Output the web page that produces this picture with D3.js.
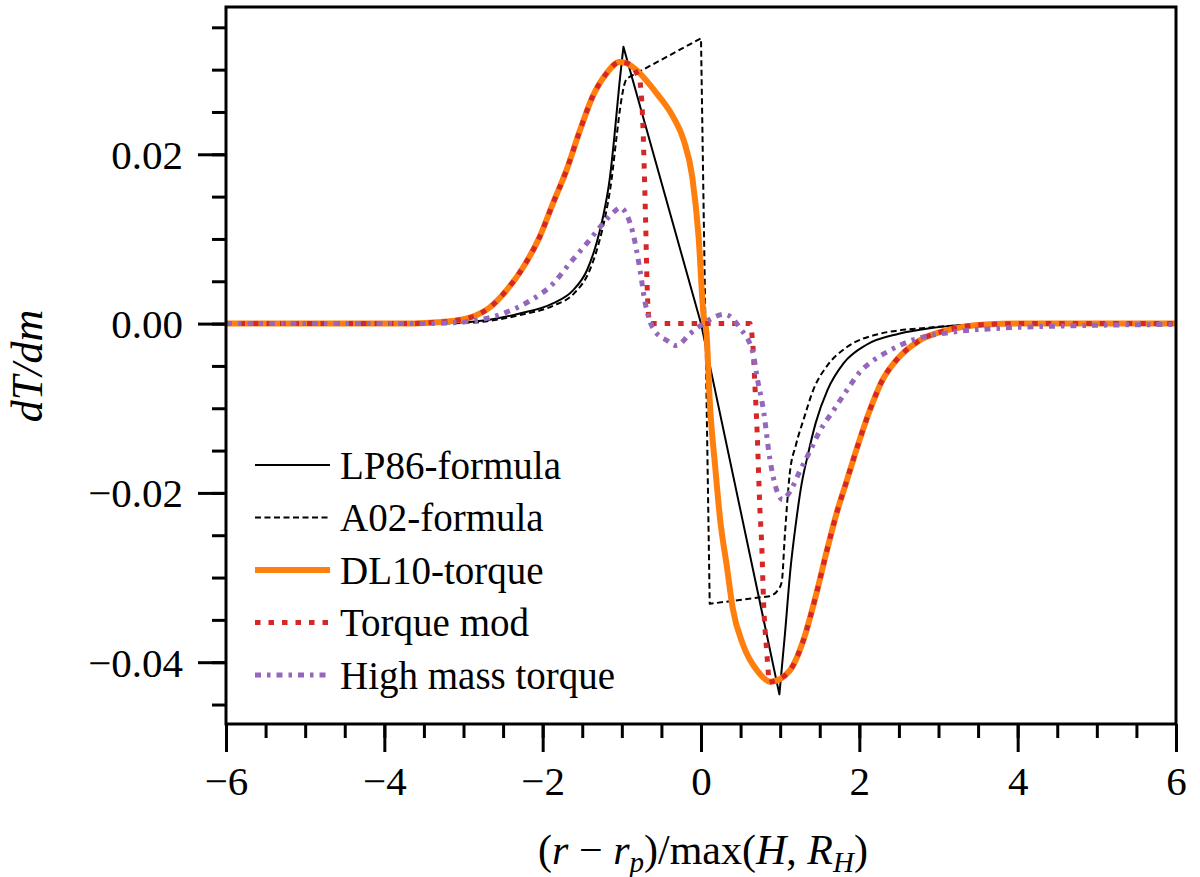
<!DOCTYPE html>
<html><head><meta charset="utf-8">
<script src="https://cdn.jsdelivr.net/npm/d3@7"></script>
<style>
html,body{margin:0;padding:0;background:#fff;}
svg{display:block;}
text{font-family:"Liberation Serif","DejaVu Serif",serif;fill:#000;}
</style></head>
<body><svg id="chart" width="1200" height="877"></svg>
<script>
// ---- data ----
const xDomain = [-6, 6];
const yDomain = [-0.0473, 0.0374];
const xTicks = [-6, -4, -2, 0, 2, 4, 6];
const xMinorTicks = [-6,-5.5,-5,-4.5,-4,-3.5,-3,-2.5,-2,-1.5,-1,-0.5,0,0.5,1,1.5,2,2.5,3,3.5,4,4.5,5,5.5,6];
const yTicks = [-0.04, -0.02, 0.0, 0.02];
const yMinorTicks = [-0.045,-0.04,-0.035,-0.03,-0.025,-0.02,-0.015,-0.01,-0.005,0,0.005,0.01,0.015,0.02,0.025,0.03,0.035];

// LP86-formula
const lp86 = [[-6,0],[-3.5,0],[-2.92,0.0002],[-2.29,0.0012],[-1.87,0.0024],[-1.62,0.0039],[-1.44,0.0063],[-1.32,0.0095],[-1.24,0.0125],[-1.15,0.0173],[-1.09,0.0225],[-1.03,0.0284],[-0.98,0.0327],[0,0],[0.99,-0.0438],[1.06,-0.0367],[1.13,-0.029],[1.2,-0.0235],[1.27,-0.019],[1.35,-0.0155],[1.45,-0.0117],[1.6,-0.0078],[1.8,-0.0047],[2.09,-0.0025],[2.5,-0.0012],[2.93,-0.0005],[3.4,-0.0001],[4,0],[6,0]];
const lp86Corners = [-0.98, 0, 0.99];

// A02-formula
const a02 = [[-6,0],[-3.5,0],[-2.92,0.0001],[-2.29,0.001],[-1.87,0.0021],[-1.6,0.0036],[-1.42,0.006],[-1.3,0.0092],[-1.22,0.0122],[-1.13,0.017],[-1.07,0.0218],[-1.01,0.0262],[-0.96,0.0285],[-0.93,0.029],[0.0,0.0337],[0.11,-0.0331],[0.87,-0.0322],[0.97,-0.0315],[1.02,-0.0305],[1.06,-0.0249],[1.12,-0.0178],[1.2,-0.0143],[1.3,-0.0112],[1.42,-0.0078],[1.6,-0.0049],[1.84,-0.0028],[2.26,-0.0012],[2.85,-0.0005],[3.5,-0.0001],[4,0],[6,0]];
const a02Corners = [-0.93, 0.0, 0.11, 0.87];

// DL10-torque
const dl10 = [[-6,0],[-3.8,0],[-3.42,0.0001],[-3.15,0.0003],[-2.92,0.0007],[-2.67,0.0019],[-2.46,0.0039],[-2.25,0.0066],[-2.04,0.0102],[-1.87,0.0142],[-1.7,0.0181],[-1.53,0.0228],[-1.37,0.0268],[-1.19,0.0296],[-1.03,0.0309],[-0.95,0.0308],[-0.86,0.0303],[-0.56,0.0272],[-0.35,0.0244],[-0.22,0.0217],[-0.11,0.0173],[-0.03,0.0102],[0.03,0.0012],[0.07,-0.0012],[0.11,-0.0091],[0.18,-0.017],[0.24,-0.023],[0.33,-0.0289],[0.4,-0.0336],[0.53,-0.0379],[0.71,-0.041],[0.88,-0.0423],[1.12,-0.041],[1.29,-0.0375],[1.46,-0.0318],[1.58,-0.0272],[1.71,-0.0225],[1.84,-0.0186],[1.96,-0.015],[2.13,-0.0103],[2.29,-0.0067],[2.46,-0.0044],[2.76,-0.002],[3.1,-0.0008],[3.6,-0.0001],[4,0],[6,0]];
const dl10Corners = [];

// Torque mod
const torqueMod = [[-6,0],[-3.8,0],[-3.42,0.0001],[-3.15,0.0003],[-2.92,0.0007],[-2.67,0.0019],[-2.46,0.0039],[-2.25,0.0066],[-2.04,0.0102],[-1.87,0.0142],[-1.7,0.0181],[-1.53,0.0228],[-1.37,0.0268],[-1.19,0.0296],[-1.03,0.0309],[-0.95,0.0308],[-0.86,0.0303],[-0.77,0.0287],[-0.74,0.0248],[-0.7,0.0122],[-0.68,0.0043],[-0.65,0],[0.62,0],[0.66,-0.0032],[0.68,-0.0071],[0.71,-0.013],[0.74,-0.021],[0.77,-0.0269],[0.79,-0.0328],[0.83,-0.0387],[0.86,-0.0424],[0.9,-0.0423],[1.12,-0.041],[1.29,-0.0375],[1.46,-0.0318],[1.58,-0.0272],[1.71,-0.0225],[1.84,-0.0186],[1.96,-0.015],[2.13,-0.0103],[2.29,-0.0067],[2.46,-0.0044],[2.76,-0.002],[3.1,-0.0008],[3.6,-0.0001],[4,0],[6,0]];
const torqueModCorners = [-0.77, -0.65, 0.62, 0.86];

// High mass torque
const highMass = [[-6,0],[-3.6,0],[-3.13,0.0001],[-2.5,0.0012],[-2.16,0.0027],[-1.87,0.0047],[-1.66,0.0071],[-1.44,0.0095],[-1.24,0.0118],[-1.1,0.0132],[-1.02,0.0137],[-0.93,0.0127],[-0.86,0.0107],[-0.77,0.0063],[-0.71,0.0027],[-0.61,-0.0005],[-0.43,-0.002],[-0.31,-0.0026],[-0.14,-0.0012],[0.03,0],[0.3,0.0011],[0.49,-0.0005],[0.66,-0.0036],[0.71,-0.0064],[0.79,-0.0103],[0.87,-0.016],[0.95,-0.0195],[1.03,-0.0208],[1.12,-0.0199],[1.25,-0.0174],[1.38,-0.015],[1.5,-0.0127],[1.67,-0.0103],[1.84,-0.0079],[2.0,-0.0058],[2.2,-0.0042],[2.34,-0.0034],[2.72,-0.0018],[3.1,-0.0011],[3.68,-0.0006],[4.5,-0.0003],[6,-0.0001]];
const highMassCorners = [];

const seriesNames = ["LP86-formula","A02-formula","DL10-torque","Torque mod","High mass torque"];

// ---- layout ----
const svg = d3.select("#chart");
const m = {left:226, right:1176, top:7, bottom:724};
const x = d3.scaleLinear().domain(xDomain).range([m.left, m.right]);
const y = d3.scaleLinear().domain(yDomain).range([m.bottom, m.top]);

const styles = [
  {data:lp86, corners:lp86Corners, color:"#000", width:2, dash:null},
  {data:a02, corners:a02Corners, color:"#000", width:2, dash:"6,3.5"},
  {data:dl10, corners:dl10Corners, color:"#ff7f0e", width:6, dash:null},
  {data:torqueMod, corners:torqueModCorners, color:"#d62728", width:5, dash:"5.5,8"},
  {data:highMass, corners:highMassCorners, color:"#9467bd", width:5, dash:"6,6,3.5,6"}
];

// build path: smooth (monotone) between sharp corners, joined into one path
function buildPath(data, corners){
  const segs = [];
  let cur = [];
  data.forEach((p,i)=>{
    cur.push(p);
    if (corners.includes(p[0]) && i>0 && i<data.length-1){
      segs.push(cur); cur=[p];
    }
  });
  if (cur.length>1) segs.push(cur);
  let d = "";
  segs.forEach((s,k)=>{
    const gen = d3.line().x(p=>x(p[0])).y(p=>y(p[1]))
      .curve(s.length>2 ? d3.curveMonotoneX : d3.curveLinear);
    let sd = gen(s);
    if (k>0) sd = "L" + sd.slice(1);
    d += sd;
  });
  return d;
}

svg.append("defs").append("clipPath").attr("id","clip").append("rect")
  .attr("x",m.left).attr("y",m.top).attr("width",m.right-m.left).attr("height",m.bottom-m.top);

const plot = svg.append("g").attr("clip-path","url(#clip)");
styles.forEach(s=>{
  plot.append("path")
    .attr("fill","none").attr("stroke",s.color).attr("stroke-width",s.width)
    .attr("stroke-dasharray",s.dash).attr("stroke-linejoin","round")
    .attr("d", buildPath(s.data, s.corners));
});

// axes
const fmtX = d3.format("d");
const fmtY = d3.format(".2f");
const gx = svg.append("g").attr("transform",`translate(0,${m.bottom})`)
  .call(d3.axisBottom(x).tickValues(xMinorTicks).tickSize(14).tickFormat(""));
const gx2 = svg.append("g").attr("transform",`translate(0,${m.bottom})`)
  .call(d3.axisBottom(x).tickValues(xTicks).tickSize(28).tickPadding(14).tickFormat(fmtX));
const gy = svg.append("g").attr("transform",`translate(${m.left},0)`)
  .call(d3.axisLeft(y).tickValues(yMinorTicks).tickSize(14).tickFormat(""));
const gy2 = svg.append("g").attr("transform",`translate(${m.left},0)`)
  .call(d3.axisLeft(y).tickValues(yTicks).tickSize(28).tickPadding(15).tickFormat(fmtY));
[gx,gx2,gy,gy2].forEach(g=>{
  g.select(".domain").remove();
  g.selectAll(".tick line").attr("stroke","#000").attr("stroke-width",3);
  g.selectAll(".tick text").attr("font-size",41).attr("font-family","Liberation Serif, serif").attr("fill","#000");
});
gy2.selectAll(".tick text").attr("dy","0.34em");

// frame
svg.append("rect").attr("x",m.left).attr("y",m.top).attr("width",m.right-m.left).attr("height",m.bottom-m.top)
  .attr("fill","none").attr("stroke","#000").attr("stroke-width",3);

// x label
const xl = svg.append("text").attr("x",(m.left+m.right)/2+2).attr("y",864).attr("text-anchor","middle").attr("font-size",42);
xl.append("tspan").text("(");
xl.append("tspan").attr("font-style","italic").text("r");
xl.append("tspan").text(" − ");
xl.append("tspan").attr("font-style","italic").text("r");
xl.append("tspan").attr("font-style","italic").attr("font-size",29).attr("dy",8).text("p");
xl.append("tspan").attr("dy",-8).text(")/max(");
xl.append("tspan").attr("font-style","italic").text("H");
xl.append("tspan").text(", ");
xl.append("tspan").attr("font-style","italic").text("R");
xl.append("tspan").attr("font-style","italic").attr("font-size",29).attr("dy",8).text("H");
xl.append("tspan").attr("dy",-8).text(")");

// y label
svg.append("text").attr("transform","translate(42,366) rotate(-90)").attr("text-anchor","middle")
  .attr("font-size",44).attr("font-style","italic").text("dT/dm");

// legend
const legX0 = 255, legX1 = 330, legTx = 340, legY0 = 465, legDy = 52.5;
seriesNames.forEach((name,i)=>{
  const s = styles[i];
  const yy = legY0 + i*legDy;
  svg.append("line").attr("x1",legX0).attr("x2",legX1).attr("y1",yy).attr("y2",yy)
    .attr("stroke",s.color).attr("stroke-width",s.width).attr("stroke-dasharray",s.dash);
  svg.append("text").attr("x",legTx).attr("y",yy).attr("dy","0.35em").attr("font-size",39).text(name);
});
</script></body></html>
